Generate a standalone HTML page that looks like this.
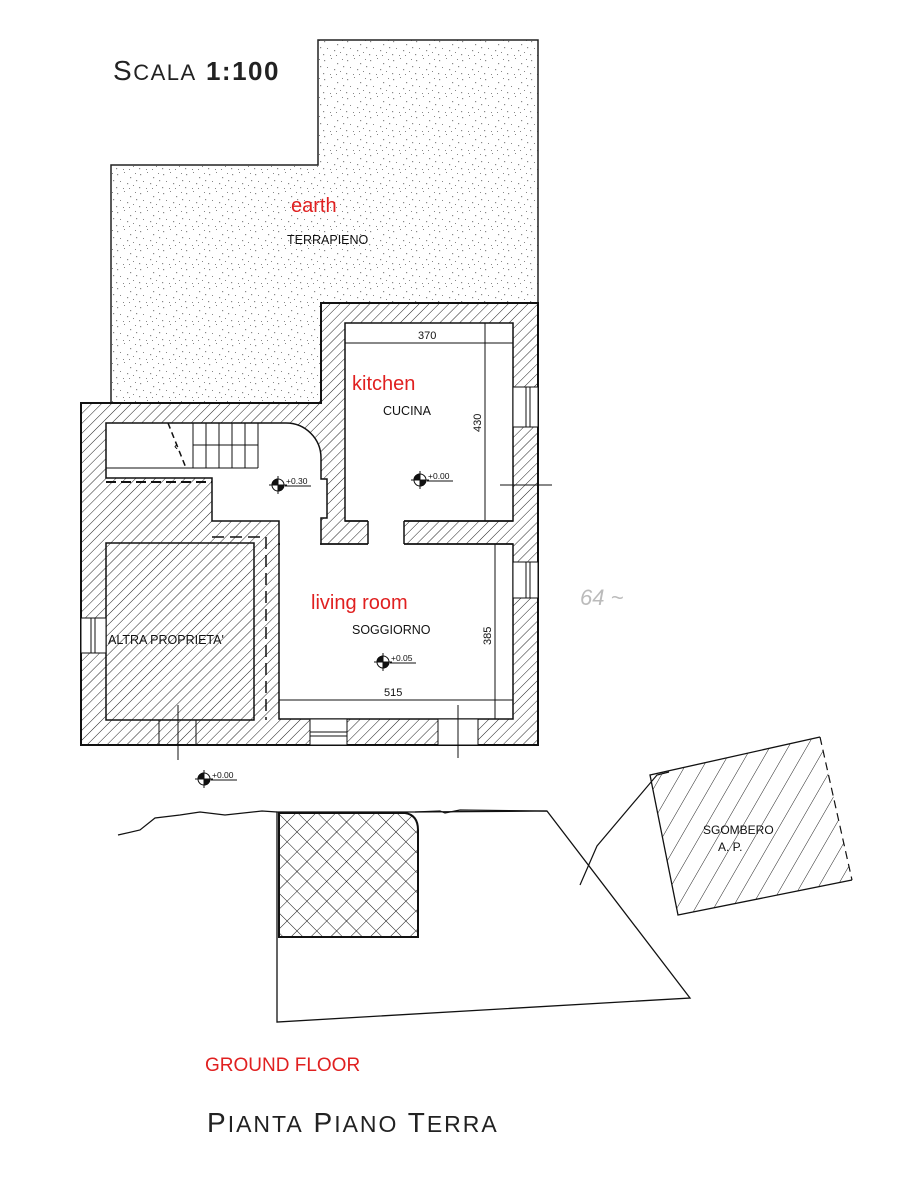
<!DOCTYPE html>
<html><head><meta charset="utf-8"><style>
html,body{margin:0;padding:0;background:#fff;}
svg{display:block;}
text{font-family:"Liberation Sans",sans-serif;}
</style></head><body>
<svg width="899" height="1200" viewBox="0 0 899 1200" xmlns="http://www.w3.org/2000/svg">
<defs>
<pattern id="hatch" width="7" height="7" patternUnits="userSpaceOnUse" patternTransform="rotate(45)">
<rect width="7" height="7" fill="#fff"/><line x1="0" y1="0" x2="0" y2="7" stroke="#222" stroke-width="1"/>
</pattern>
<pattern id="hatch2" width="16" height="16" patternUnits="userSpaceOnUse" patternTransform="rotate(30)">
<line x1="0" y1="0" x2="0" y2="16" stroke="#222" stroke-width="1"/>
</pattern>
<pattern id="cross" width="14" height="14" patternUnits="userSpaceOnUse" patternTransform="rotate(45)">
<rect width="14" height="14" fill="#fff"/><line x1="0" y1="0" x2="0" y2="14" stroke="#111" stroke-width="1"/><line x1="0" y1="0" x2="14" y2="0" stroke="#111" stroke-width="1"/>
</pattern>
<pattern id="stip" width="23" height="19" patternUnits="userSpaceOnUse">
<rect width="23" height="19" fill="#fff"/>
<g fill="#888">
<rect x="2" y="3" width="1.2" height="1.2"/><rect x="9" y="1" width="1" height="1"/><rect x="15" y="6" width="1.2" height="1.2"/>
<rect x="20" y="2" width="1" height="1"/><rect x="5" y="10" width="1" height="1"/><rect x="12" y="12" width="1.2" height="1.2"/>
<rect x="18" y="14" width="1" height="1"/><rect x="1" y="16" width="1.2" height="1.2"/><rect x="8" y="17" width="1" height="1"/>
<rect x="21" y="9" width="1.2" height="1.2"/><rect x="14" y="17" width="1" height="1"/>
</g>
</pattern>
</defs>

<polygon points="111,165 318,165 318,40 538,40 538,303 321,303 321,403 111,403" fill="url(#stip)" stroke="#222" stroke-width="1.5"/>

<polygon points="81,403 321,403 321,303 538,303 538,745 81,745" fill="url(#hatch)" stroke="#111" stroke-width="2"/>

<g fill="#fff" stroke="#111" stroke-width="1.5">
<rect x="345" y="323" width="168" height="198"/>
<rect x="279" y="544" width="234" height="175"/>
<path d="M106,423 L286,423 A35,35 0 0 1 321,458 L321,479 L327,479 L327,518 L321,518 L321,544 L279,544 L279,521 L212,521 L212,478 L106,478 Z"/>
</g>
<rect x="368" y="520" width="36" height="26" fill="#fff"/>
<line x1="345" y1="521" x2="368" y2="521" stroke="#111" stroke-width="1.5"/>
<line x1="404" y1="521" x2="513" y2="521" stroke="#111" stroke-width="1.5"/>
<line x1="368" y1="521" x2="368" y2="544" stroke="#111" stroke-width="1.5"/>
<line x1="404" y1="521" x2="404" y2="544" stroke="#111" stroke-width="1.5"/>
<line x1="321" y1="544" x2="368" y2="544" stroke="#111" stroke-width="1.5"/>
<line x1="404" y1="544" x2="513" y2="544" stroke="#111" stroke-width="1.5"/>
<rect x="280" y="521" width="40" height="24" fill="#fff"/>

<g stroke="#111" stroke-width="1">
<line x1="106" y1="468" x2="258" y2="468"/>
<line x1="258" y1="423" x2="258" y2="468"/>
<line x1="193" y1="445" x2="258" y2="445"/>
<line x1="193" y1="423" x2="193" y2="468"/><line x1="206" y1="423" x2="206" y2="468"/><line x1="219" y1="423" x2="219" y2="468"/><line x1="232" y1="423" x2="232" y2="468"/><line x1="245" y1="423" x2="245" y2="468"/>
</g>
<path d="M168,423 L186,468" stroke="#111" stroke-width="1.5" stroke-dasharray="6,4" fill="none"/>
<text x="174" y="450" font-size="12">&#8249;</text>
<line x1="106" y1="482" x2="212" y2="482" stroke="#111" stroke-width="2" stroke-dasharray="10,5"/>
<rect x="107" y="483" width="104" height="37" fill="url(#hatch)"/>

<rect x="106" y="543" width="148" height="177" fill="url(#hatch)" stroke="#111" stroke-width="1.5"/>
<polyline points="212,537 266,537 266,720" fill="none" stroke="#111" stroke-width="1.5" stroke-dasharray="12,6"/>
<line x1="159" y1="720" x2="159" y2="745" stroke="#111"/>
<line x1="196" y1="720" x2="196" y2="745" stroke="#111"/>

<g fill="#fff" stroke="#111" stroke-width="1">
<rect x="513" y="387" width="25" height="40"/>
<rect x="513" y="562" width="25" height="36"/>
<rect x="310" y="719" width="37" height="26"/>
<rect x="438" y="719" width="40" height="26"/>
<rect x="81" y="618" width="25" height="35"/>
</g>
<g stroke="#111" stroke-width="1">
<line x1="526" y1="387" x2="526" y2="427"/><line x1="530" y1="387" x2="530" y2="427"/>
<line x1="526" y1="562" x2="526" y2="598"/><line x1="530" y1="562" x2="530" y2="598"/>
<line x1="310" y1="732" x2="347" y2="732"/><line x1="310" y1="736" x2="347" y2="736"/>
<line x1="91" y1="618" x2="91" y2="653"/><line x1="95" y1="618" x2="95" y2="653"/>
<line x1="500" y1="485" x2="552" y2="485"/>
<line x1="458" y1="705" x2="458" y2="758"/>
<line x1="178" y1="705" x2="178" y2="760"/>
</g>

<g stroke="#111" stroke-width="1" fill="none">
<line x1="345" y1="343" x2="513" y2="343"/>
<line x1="485" y1="323" x2="485" y2="521"/>
<line x1="495" y1="544" x2="495" y2="719"/>
<line x1="279" y1="700" x2="513" y2="700"/>
</g>
<g font-size="11" fill="#111">
<text x="418" y="339">370</text>
<text x="481" y="432" transform="rotate(-90 481 432)">430</text>
<text x="491" y="645" transform="rotate(-90 491 645)">385</text>
<text x="384" y="696">515</text>
</g>

<g stroke="#111" stroke-width="1">
<g transform="translate(278,485)"><circle r="6" fill="#fff"/><path d="M0,-6 A6,6 0 0 0 -6,0 L0,0Z M0,6 A6,6 0 0 0 6,0 L0,0Z" fill="#111"/><line x1="-9" y1="0" x2="9" y2="0"/><line x1="0" y1="-9" x2="0" y2="9"/></g>
<g transform="translate(420,480)"><circle r="6" fill="#fff"/><path d="M0,-6 A6,6 0 0 0 -6,0 L0,0Z M0,6 A6,6 0 0 0 6,0 L0,0Z" fill="#111"/><line x1="-9" y1="0" x2="9" y2="0"/><line x1="0" y1="-9" x2="0" y2="9"/></g>
<g transform="translate(383,662)"><circle r="6" fill="#fff"/><path d="M0,-6 A6,6 0 0 0 -6,0 L0,0Z M0,6 A6,6 0 0 0 6,0 L0,0Z" fill="#111"/><line x1="-9" y1="0" x2="9" y2="0"/><line x1="0" y1="-9" x2="0" y2="9"/></g>
<g transform="translate(204,779)"><circle r="6" fill="#fff"/><path d="M0,-6 A6,6 0 0 0 -6,0 L0,0Z M0,6 A6,6 0 0 0 6,0 L0,0Z" fill="#111"/><line x1="-9" y1="0" x2="9" y2="0"/><line x1="0" y1="-9" x2="0" y2="9"/></g>
<line x1="285" y1="486" x2="311" y2="486"/><line x1="427" y1="481" x2="453" y2="481"/><line x1="390" y1="663" x2="416" y2="663"/><line x1="211" y1="780" x2="237" y2="780"/>
</g>
<g font-size="8.5" fill="#111">
<text x="286" y="484">+0.30</text><text x="428" y="479">+0.00</text><text x="391" y="661">+0.05</text><text x="212" y="778">+0.00</text>
</g>

<path d="M118,835 L140,830 L155,818 L180,815 L200,812 L225,815 L262,811 L277,812 M415,812 L440,811 L445,813 L460,810 L547,811" fill="none" stroke="#111" stroke-width="1.2"/>
<polygon points="277,812 415,812 547,811 690,998 277,1022" fill="none" stroke="#111" stroke-width="1.3"/>
<path d="M279,813 L405,813 Q418,815 418,830 L418,937 L279,937 Z" fill="url(#cross)" stroke="#111" stroke-width="2"/>
<polyline points="580,885 597,846 657,775 669,772" fill="none" stroke="#111" stroke-width="1.2"/>
<polygon points="650,775 820,737 852,880 678,915" fill="url(#hatch2)" stroke="none"/>
<polyline points="820,737 650,775 678,915 852,880" fill="none" stroke="#111" stroke-width="1.3"/>
<line x1="820" y1="737" x2="852" y2="880" stroke="#111" stroke-width="1.2" stroke-dasharray="8,5"/>

<text x="113" y="80" font-size="28" fill="#222" letter-spacing="1.5">S<tspan font-size="22">CALA</tspan> <tspan font-weight="bold" font-size="26">1:100</tspan></text>
<text x="291" y="212" font-size="20" fill="#e02020">earth</text>
<text x="287" y="244" font-size="12.5" fill="#111">TERRAPIENO</text>
<text x="352" y="390" font-size="20" fill="#e02020">kitchen</text>
<text x="383" y="415" font-size="12.5" fill="#111">CUCINA</text>
<text x="311" y="609" font-size="20" fill="#e02020">living room</text>
<text x="352" y="634" font-size="12.5" fill="#111">SOGGIORNO</text>
<text x="108" y="644" font-size="12.5" fill="#111">ALTRA PROPRIETA'</text>
<text x="703" y="834" font-size="12" fill="#111">SGOMBERO</text>
<text x="718" y="851" font-size="12" fill="#111">A. P.</text>
<text x="580" y="605" font-size="22" fill="#bbb" font-style="italic">64 ~</text>
<text x="205" y="1071" font-size="19" fill="#e02020">GROUND FLOOR</text>
<text x="207" y="1132" font-size="28" fill="#222" letter-spacing="2">P<tspan font-size="23">IANTA</tspan> P<tspan font-size="23">IANO</tspan> T<tspan font-size="23">ERRA</tspan></text>
</svg>
</body></html>
